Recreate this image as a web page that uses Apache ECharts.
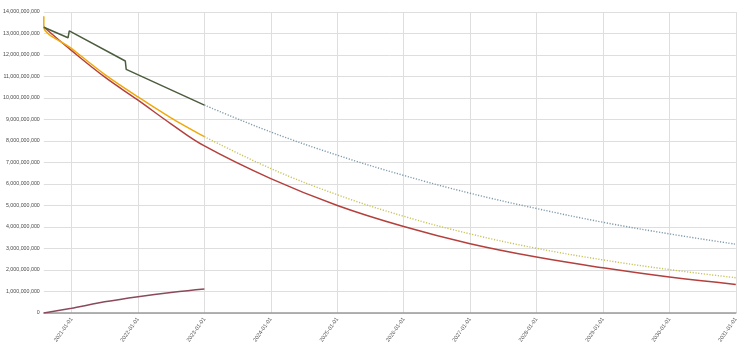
<!DOCTYPE html>
<html>
<head>
<meta charset="utf-8">
<script src="https://cdn.jsdelivr.net/npm/echarts@6/dist/echarts.min.js"></script>
<style>
html,body{margin:0;padding:0;background:#fff;}
#c{width:740px;height:346px;}
</style>
</head>
<body>
<div id="c"></div>
<script>
// Values in billions
const yearTicks = ['2021-01-01','2022-01-01','2023-01-01','2024-01-01','2025-01-01','2026-01-01','2027-01-01','2028-01-01','2029-01-01','2030-01-01','2031-01-01'];

const greenDates  = ['2020-08-01','2020-12-12','2020-12-19','2021-10-23','2021-10-28','2023-01-01'];
const greenValues = [13.29, 12.80, 13.12, 11.72, 11.33, 9.67];

const blueDates  = ['2023-01-01','2024-01-01','2025-01-01','2026-01-01','2027-01-01','2028-01-01','2029-01-01','2030-01-01','2031-01-01'];
const blueValues = [9.67, 8.42, 7.34, 6.40, 5.57, 4.86, 4.22, 3.68, 3.20];

const orangeDates  = ['2020-08-01','2020-08-01','2021-01-01','2021-07-01','2022-01-01','2022-07-01','2023-01-01'];
const orangeValues = [13.80, 13.30, 12.30, 11.10, 10.05, 9.08, 8.20];

const yellowDates  = ['2023-01-01','2024-01-01','2025-01-01','2026-01-01','2027-01-01','2028-01-01','2029-01-01','2030-01-01','2031-01-01'];
const yellowValues = [8.20, 6.72, 5.50, 4.50, 3.68, 3.01, 2.47, 2.02, 1.64];

const redDates  = ['2020-08-01','2021-01-01','2021-07-01','2022-01-01','2022-07-01','2023-01-01','2024-01-01','2025-01-01','2026-01-01','2027-01-01','2028-01-01','2029-01-01','2030-01-01','2031-01-01'];
const redValues = [13.30, 12.20, 10.98, 9.90, 8.80, 7.77, 6.25, 5.00, 4.02, 3.22, 2.60, 2.10, 1.67, 1.33];

const purpleDates  = ['2020-08-01','2021-01-01','2021-07-01','2022-01-01','2022-07-01','2022-10-01','2023-01-01'];
const purpleValues = [0, 0.22, 0.52, 0.76, 0.95, 1.04, 1.12];

const ts = d => Date.parse(d + 'T00:00:00Z');
function pairs(d, v){ return d.map((x,i)=>[ts(x), v[i]]); }
const tickVals = yearTicks.map(ts);

const chart = echarts.init(document.getElementById('c'), null, {renderer:'canvas'});
const solid = (name, d, v, color, sm) => ({
  name, type:'line', data: pairs(d,v), showSymbol:false, symbol:'none',
  lineStyle:{color, width:1.5}, smooth:sm, animation:false
});
const dotted = (name, d, v, color) => ({
  name, type:'line', data: pairs(d,v), showSymbol:false, symbol:'none',
  lineStyle:{color, width:1.4, type:[1.2,1.6]}, smooth:0.4, animation:false
});

chart.setOption({
  animation:false,
  grid:{left:41, right:1, top:12, bottom:33, containLabel:false},
  xAxis:{
    type:'value',
    min: ts('2020-08-01'), max: ts('2031-01-01'),
    axisLine:{show:true, lineStyle:{color:'#9a9a9a', width:1.5}},
    axisTick:{show:false, customValues: tickVals},
    axisLabel:{
      customValues: tickVals,
      rotate:55, fontSize:5.6, color:'#5a5a5a', margin:5,
      fontFamily:'Liberation Sans, Arial, sans-serif',
      formatter: v => new Date(v).toISOString().slice(0,10)
    },
    splitLine:{show:true, lineStyle:{color:'#dedede', width:1}}
  },
  yAxis:{
    type:'value', min:0, max:14, interval:1,
    axisLine:{show:false}, axisTick:{show:false},
    axisLabel:{fontSize:5.3, color:'#4a4a4a', margin:4,
      fontFamily:'Liberation Sans, Arial, sans-serif',
      formatter: v => Math.round(v*1e9).toLocaleString('en-US')},
    splitLine:{show:true, lineStyle:{color:'#dedede', width:1}}
  },
  series:[
    dotted('blue', blueDates, blueValues, '#7f9aab'),
    dotted('yellow', yellowDates, yellowValues, '#c8c35a'),
    solid('red', redDates, redValues, '#b4403d', 0.4),
    solid('orange', orangeDates, orangeValues, '#f0a90a', 0.3),
    solid('green', greenDates, greenValues, '#4b5d3e', false),
    solid('purple', purpleDates, purpleValues, '#8b4a5b', 0.2)
  ]
});
</script>
</body>
</html>
